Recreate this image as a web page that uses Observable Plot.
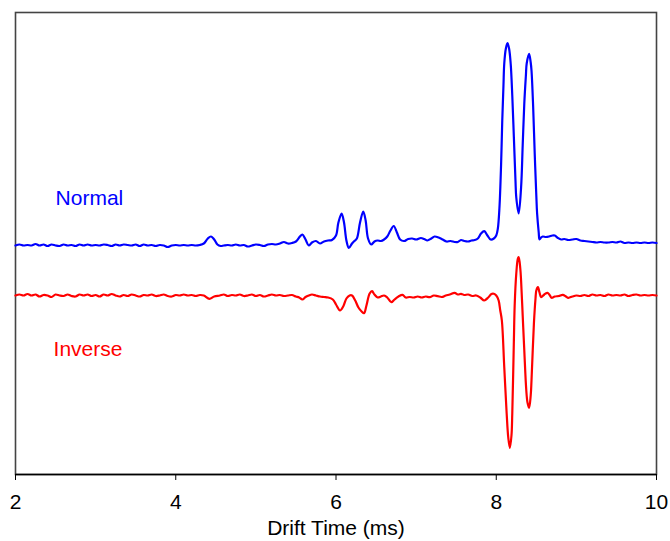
<!DOCTYPE html>
<html>
<head>
<meta charset="utf-8">
<script src="https://cdn.jsdelivr.net/npm/d3@7"></script>
<script src="https://cdn.jsdelivr.net/npm/@observablehq/plot@0.6"></script>
<style>
  html, body { margin: 0; padding: 0; background: #fff; }
  #chart svg { display: block; }
</style>
</head>
<body>
<div id="chart"></div>
<script>
// Drift time (ms) and intensity (arbitrary units, traces offset vertically)
const normalTime = [2.00,2.05,2.10,2.15,2.20,2.25,2.30,2.35,2.40,2.45,2.50,2.55,2.60,2.65,2.70,2.75,2.80,2.85,2.90,2.95,3.00,3.05,3.10,3.15,3.20,3.25,3.30,3.35,3.40,3.45,3.50,3.55,3.60,3.65,3.70,3.75,3.80,3.85,3.90,3.95,4.00,4.05,4.10,4.15,4.20,4.25,4.30,4.35,4.40,4.44,4.48,4.52,4.56,4.60,4.65,4.70,4.75,4.80,4.85,4.90,4.95,5.00,5.05,5.10,5.15,5.20,5.25,5.30,5.35,5.40,5.45,5.50,5.55,5.58,5.62,5.66,5.70,5.75,5.80,5.85,5.90,5.95,6.00,6.03,6.07,6.10,6.13,6.16,6.20,6.23,6.26,6.30,6.34,6.37,6.40,6.44,6.48,6.52,6.56,6.60,6.64,6.68,6.72,6.76,6.80,6.85,6.90,6.95,7.00,7.06,7.10,7.14,7.19,7.23,7.28,7.33,7.38,7.43,7.48,7.52,7.56,7.60,7.65,7.69,7.73,7.77,7.81,7.85,7.89,7.93,7.97,8.00,8.02,8.04,8.06,8.075,8.09,8.10,8.12,8.14,8.16,8.18,8.20,8.22,8.24,8.25,8.28,8.31,8.33,8.35,8.37,8.38,8.41,8.43,8.44,8.46,8.48,8.50,8.51,8.53,8.54,8.56,8.58,8.62,8.66,8.70,8.73,8.77,8.81,8.85,8.90,8.95,9.00,9.05,9.10,9.15,9.20,9.25,9.30,9.35,9.40,9.45,9.50,9.55,9.60,9.65,9.70,9.75,9.80,9.85,9.90,9.95,10.00];
const normalValue = [229,230,229,229.5,229,230.5,229,230,228.5,230,229,228.5,230,229,229.5,228.5,230,229,230,229,229.5,229,230,229.5,228.5,230,229,230,229.5,229,230,228.5,230,229,229.5,228.5,229.5,229,227.5,229,229.5,229,229.5,229,229.5,229,229.5,231,236,238,235,230,228.5,229,229.5,229,230,229,229.5,228,229,230,229.5,228.5,230,230.5,230,231,232.5,231,231.5,233,238,240,235,229,232,233.5,231,233,234,234.5,239,252,261,252,234,226.5,231,233.5,236,252,263,254,236,230,233,234,233.5,235,238,244,248.5,242,235,233.5,235.5,236,235,236.5,235.5,234,236,238,237,235,233,233.5,232.5,232.5,234.5,233.5,233,234,234.5,236,241,243.3,239,235,236,239,246,267,309,354,389,411,426,431.3,426,411,379,337,294,277,261,287,329,371,399,411,420.7,412,404,369,321,279,261,242,235,237,238,237.5,238,239,239,236.5,235,235.5,234.5,235,235.5,234,233.5,233,232.5,232,232.5,232,232,232.5,232,233,231.5,232,231.5,232,231.5,232,231.5,232,231.5];

const inverseTime = [2.00,2.05,2.10,2.15,2.20,2.25,2.30,2.35,2.40,2.45,2.50,2.55,2.60,2.65,2.70,2.75,2.80,2.85,2.90,2.95,3.00,3.05,3.10,3.15,3.20,3.25,3.30,3.35,3.40,3.45,3.50,3.55,3.60,3.65,3.70,3.75,3.80,3.85,3.90,3.95,4.00,4.05,4.10,4.15,4.20,4.25,4.30,4.35,4.42,4.48,4.55,4.60,4.65,4.70,4.75,4.80,4.85,4.90,4.95,5.00,5.05,5.10,5.15,5.20,5.25,5.30,5.35,5.40,5.45,5.50,5.54,5.58,5.62,5.66,5.70,5.75,5.80,5.85,5.90,5.96,6.00,6.05,6.09,6.13,6.17,6.20,6.24,6.28,6.32,6.35,6.38,6.42,6.45,6.48,6.52,6.56,6.60,6.64,6.69,6.73,6.78,6.83,6.87,6.92,6.97,7.02,7.07,7.12,7.17,7.22,7.27,7.32,7.37,7.42,7.48,7.52,7.56,7.60,7.65,7.70,7.75,7.80,7.85,7.90,7.94,7.97,8.00,8.03,8.05,8.07,8.10,8.13,8.15,8.17,8.19,8.20,8.22,8.23,8.25,8.27,8.28,8.30,8.31,8.33,8.35,8.375,8.39,8.41,8.43,8.44,8.47,8.49,8.50,8.52,8.54,8.56,8.60,8.64,8.67,8.69,8.73,8.78,8.83,8.87,8.90,8.95,9.00,9.05,9.10,9.15,9.20,9.25,9.30,9.35,9.40,9.45,9.50,9.55,9.60,9.65,9.70,9.75,9.80,9.85,9.90,9.95,10.00];
const inverseValue = [179,180,179,180.5,179,180,178,179.5,179,177.5,180,179,178.5,180,178.5,178,180,179,180,178.5,179.5,178,180,179,180.5,179,178,179.5,178.5,180,179,178,179.5,179,180,178.5,179,180,178.5,178,179.5,179,180,179,179.5,178.5,179.5,179,175.7,178,179,180,178.5,179.5,179,180,178.5,179,180,178.5,179.5,178,179,180,179,179.5,178.5,179,179.5,178,177,175,177.5,179,180,179,178,177.5,177,175,170,164,168,176,179,179,174,167,163,161.3,169,181,183.3,180,177,178,179,177,172.3,175,178,179.7,177,177.5,177,178,177,178,177.3,179,178.3,177.5,179,180,181.7,180,180.7,179.5,180,178.5,179,177,174,177,180.5,180.7,179,174,164,154,107.3,61,37,26.7,39,61,134,169,201,216,217.3,206,194,159,124,84,72,66.7,79,94,151,176,184,187.3,182,177.3,180,181.7,179,176.7,178,178.5,179.7,178,176.7,178,179,178.5,179.5,178.5,180,179,179.5,178.5,180,179,179.5,179,180,178.5,179.5,180,179,179.5,179,179.5,179];

const seriesNames = ["Normal", "Inverse"];
const seriesColors = ["#0000ff", "#ff0000"];
const labelTime = [2.5, 2.475];
const labelValue = [276, 125];
const xTicks = [2, 4, 6, 8, 10];

const normal = normalTime.map((t, i) => ({t, v: normalValue[i]}));
const inverse = inverseTime.map((t, i) => ({t, v: inverseValue[i]}));
const labels = seriesNames.map((name, i) => ({name, t: labelTime[i], v: labelValue[i], c: seriesColors[i]}));

const chart = Plot.plot({
  width: 670,
  height: 541,
  marginLeft: 15,
  marginRight: 14,
  marginTop: 12,
  marginBottom: 67,
  style: {fontFamily: "Liberation Sans, Arial, sans-serif", background: "#fff", color: "#000"},
  x: {domain: [2, 10]},
  y: {domain: [0, 462], axis: null},
  marks: [
    Plot.frame({stroke: "#444", strokeWidth: 1.6}),
    Plot.axisX({ticks: xTicks, tickSize: 6, tickPadding: 14, fontSize: 21, tickFormat: d => String(d),
      label: "Drift Time (ms)", labelAnchor: "center", labelArrow: "none", labelOffset: 60}),
    Plot.ruleY([0], {stroke: "#000", strokeWidth: 1.4}),
    Plot.line(normal, {x: "t", y: "v", stroke: seriesColors[0], strokeWidth: 2.2, curve: "catmull-rom"}),
    Plot.line(inverse, {x: "t", y: "v", stroke: seriesColors[1], strokeWidth: 2.2, curve: "catmull-rom"}),
    Plot.text(labels, {x: "t", y: "v", text: "name", fill: "c", textAnchor: "start", fontSize: 21})
  ]
});
document.getElementById("chart").appendChild(chart);
</script>
</body>
</html>
